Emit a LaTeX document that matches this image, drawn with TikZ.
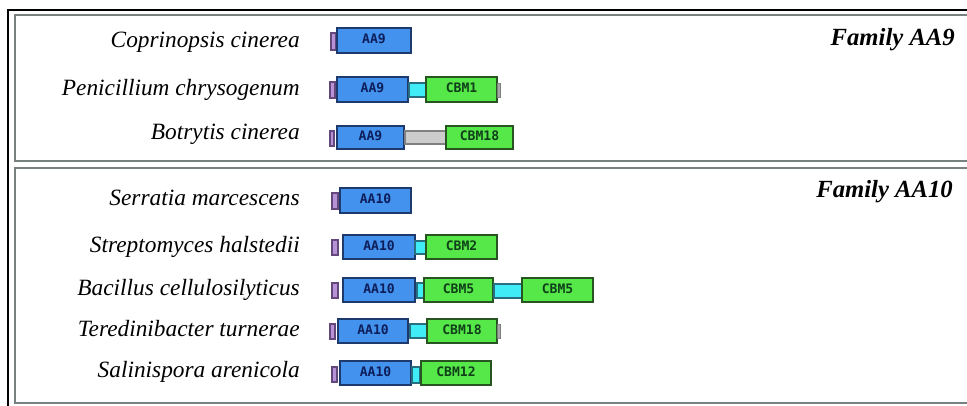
\documentclass[tikz,border=0pt]{standalone}
\usepackage{fontspec}
\setmainfont{Liberation Serif}
\newfontfamily\boxfont{DejaVu Sans Mono}
\definecolor{aafill}{RGB}{66,146,238}
\definecolor{aaline}{RGB}{30,58,108}
\definecolor{aatext}{RGB}{14,30,90}
\definecolor{cbfill}{RGB}{86,232,72}
\definecolor{cbline}{RGB}{40,84,34}
\definecolor{cbtext}{RGB}{16,64,26}
\definecolor{cyfill}{RGB}{64,236,246}
\definecolor{cyline}{RGB}{40,110,128}
\definecolor{pufill}{RGB}{184,146,214}
\definecolor{puline}{RGB}{100,72,124}
\definecolor{grfill}{RGB}{204,204,204}
\definecolor{grline}{RGB}{128,128,128}
\definecolor{frame}{RGB}{120,128,128}
\tikzset{
  aa/.style={draw=aaline,fill=aafill,line width=1.1pt},
  cbm/.style={draw=cbline,fill=cbfill,line width=1.1pt},
  cyan link/.style={draw=cyline,fill=cyfill,line width=0.9pt},
  gray link/.style={draw=grline,fill=grfill,line width=0.9pt},
  sig/.style={draw=puline,fill=pufill,line width=0.9pt},
  endcap/.style={draw=grline,fill=grline!70,line width=0.6pt},
  aatxt/.style={font=\boxfont\bfseries\fontsize{9.8}{10}\selectfont,text=aatext,inner sep=0pt,yshift=1pt},
  cbtxt/.style={font=\boxfont\bfseries\fontsize{9.8}{10}\selectfont,text=cbtext,inner sep=0pt,yshift=1pt},
  species/.style={font=\itshape\fontsize{17.5}{20}\selectfont,anchor=base east,inner sep=0pt},
  family/.style={font=\bfseries\itshape\fontsize{18.5}{21}\selectfont,anchor=base east,inner sep=0pt},
  panel/.style={draw=frame,line width=1.3pt},
}
% \dom{name}{style}{x1}{y1}{x2}{y2}{text style}{text}
\newcommand\dom[8]{%
  \path[#2] (#3,#4) rectangle (#5,#6);
  \node[#7] (#1) at ({(#3+#5)/2},{(#4+#6)/2}) {#8};}
\begin{document}
\begin{tikzpicture}[x=0.75pt,y=-0.75pt]
\useasboundingbox (0,0) rectangle (967,405);
\fill[white] (0,0) rectangle (967,405);
% outer and panel frames
\draw[black,line width=1.6pt] (8,420) -- (8,10) -- (990,10);
\draw[panel] (15,15) rectangle (990,161);
\draw[panel] (15,168) rectangle (990,403);
% family titles
\node[family] (fam9) at (955,45) {Family AA9};
\node[family] (fam10) at (953,197) {Family AA10};
% species labels
\node[species] (s1) at (300,47) {Coprinopsis cinerea};
\node[species] (s2) at (300,95) {Penicillium chrysogenum};
\node[species] (s3) at (300,139) {Botrytis cinerea};
\node[species] (s4) at (300,205) {Serratia marcescens};
\node[species] (s5) at (300,252) {Streptomyces halstedii};
\node[species] (s6) at (300,295) {Bacillus cellulosilyticus};
\node[species] (s7) at (300,336) {Teredinibacter turnerae};
\node[species] (s8) at (300,377) {Salinispora arenicola};
% Row 1: Coprinopsis
\dom{r1s}{sig}{331}{33}{336}{50}{}{}
\dom{r1a}{aa}{337}{28}{411}{53}{aatxt}{AA9}
% Row 2: Penicillium
\dom{r2s}{sig}{330}{82}{335}{98}{}{}
\dom{r2a}{aa}{337}{77}{408}{102}{aatxt}{AA9}
\dom{r2l}{cyan link}{409}{83}{426}{97}{}{}
\dom{r2c}{cbm}{426}{77}{497}{102}{cbtxt}{CBM1}
\dom{r2e}{endcap}{497}{83}{500}{97}{}{}
% Row 3: Botrytis
\dom{r3s}{sig}{330}{131}{334}{146}{}{}
\dom{r3a}{aa}{337}{126}{404}{149}{aatxt}{AA9}
\dom{r3l}{gray link}{405}{131}{446}{144}{}{}
\dom{r3c}{cbm}{446}{126}{513}{149}{cbtxt}{CBM18}
% Row 4: Serratia
\dom{r4s}{sig}{332}{193}{338}{209}{}{}
\dom{r4a}{aa}{340}{188}{411}{213}{aatxt}{AA10}
% Row 5: Streptomyces
\dom{r5s}{sig}{332}{240}{338}{255}{}{}
\dom{r5a}{aa}{343}{235}{415}{259}{aatxt}{AA10}
\dom{r5l}{cyan link}{415}{241}{426}{254}{}{}
\dom{r5c}{cbm}{426}{235}{497}{259}{cbtxt}{CBM2}
% Row 6: Bacillus
\dom{r6s}{sig}{332}{283}{338}{298}{}{}
\dom{r6a}{aa}{343}{278}{415}{302}{aatxt}{AA10}
\dom{r6l}{cyan link}{417}{283}{424}{298}{}{}
\dom{r6c}{cbm}{424}{278}{493}{302}{cbtxt}{CBM5}
\dom{r6m}{cyan link}{494}{284}{522}{298}{}{}
\dom{r6d}{cbm}{522}{278}{593}{302}{cbtxt}{CBM5}
% Row 7: Teredinibacter
\dom{r7s}{sig}{330}{324}{335}{339}{}{}
\dom{r7a}{aa}{338}{319}{408}{343}{aatxt}{AA10}
\dom{r7l}{cyan link}{410}{324}{427}{338}{}{}
\dom{r7c}{cbm}{427}{319}{497}{343}{cbtxt}{CBM18}
\dom{r7e}{endcap}{497}{324}{500}{338}{}{}
% Row 8: Salinispora
\dom{r8s}{sig}{332}{367}{337}{382}{}{}
\dom{r8a}{aa}{340}{361}{411}{385}{aatxt}{AA10}
\dom{r8l}{cyan link}{412}{367}{420}{383}{}{}
\dom{r8c}{cbm}{421}{361}{491}{385}{cbtxt}{CBM12}
\end{tikzpicture}
\end{document}
